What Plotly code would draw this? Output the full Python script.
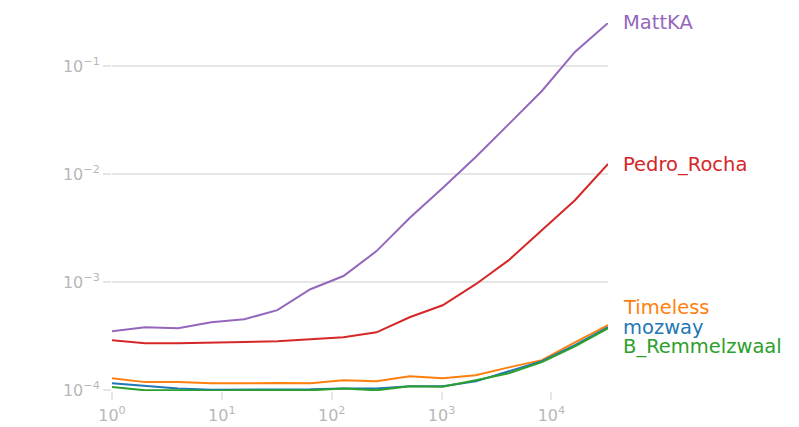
import plotly.graph_objects as go
import numpy as np

n = [2 ** k for k in range(16)]

names = ["MattKA", "Pedro_Rocha", "Timeless", "mozway", "B_Remmelzwaal"]
colors = ["#9467bd", "#d62728", "#ff7f0e", "#1f77b4", "#2ca02c"]

MattKA = [3.52e-4, 3.83e-4, 3.75e-4, 4.26e-4, 4.54e-4, 5.51e-4, 8.61e-4, 1.14e-3,
          1.94e-3, 3.92e-3, 7.42e-3, 1.44e-2, 2.90e-2, 5.87e-2, 0.135, 0.25]
Pedro_Rocha = [2.90e-4, 2.72e-4, 2.72e-4, 2.78e-4, 2.80e-4, 2.84e-4, 2.97e-4, 3.10e-4,
               3.44e-4, 4.74e-4, 6.12e-4, 9.58e-4, 1.60e-3, 3.03e-3, 5.74e-3, 1.24e-2]
Timeless = [1.29e-4, 1.19e-4, 1.19e-4, 1.16e-4, 1.16e-4, 1.17e-4, 1.16e-4, 1.24e-4,
            1.21e-4, 1.35e-4, 1.29e-4, 1.38e-4, 1.63e-4, 1.90e-4, 2.78e-4, 4.00e-4]
mozway = [1.16e-4, 1.09e-4, 1.04e-4, 1.01e-4, 1.01e-4, 1.02e-4, 1.02e-4, 1.04e-4,
          1.04e-4, 1.09e-4, 1.09e-4, 1.21e-4, 1.50e-4, 1.86e-4, 2.61e-4, 3.83e-4]
B_Remmelzwaal = [1.07e-4, 1.00e-4, 1.00e-4, 0.99e-4, 1.00e-4, 1.00e-4, 1.00e-4, 1.04e-4,
                 1.00e-4, 1.09e-4, 1.08e-4, 1.24e-4, 1.44e-4, 1.82e-4, 2.55e-4, 3.75e-4]

x_tickvals = [1, 10, 100, 1000, 10000]
x_ticktext = ["10<sup>0</sup>", "10<sup>1</sup>", "10<sup>2</sup>", "10<sup>3</sup>", "10<sup>4</sup>"]
y_tickvals = [1e-4, 1e-3, 1e-2, 1e-1]
y_ticktext = ["10<sup>\u22124</sup>", "10<sup>\u22123</sup>", "10<sup>\u22122</sup>", "10<sup>\u22121</sup>"]

series = [MattKA, Pedro_Rocha, Timeless, mozway, B_Remmelzwaal]
label_shift = [1, 0, 18, 0, -18]

fig = go.Figure()
for name, col, ys in zip(names, colors, series):
    fig.add_trace(go.Scatter(x=n, y=ys, mode="lines", name=name,
                             line=dict(color=col, width=2)))

for name, col, ys, sh in zip(names, colors, series, label_shift):
    fig.add_annotation(x=np.log10(n[-1]), y=np.log10(ys[-1]), text=name,
                       showarrow=False, xanchor="left", yanchor="middle",
                       xshift=13, yshift=sh,
                       font=dict(family="DejaVu Sans", size=19.5, color=col))

tick_color = "#b8b8b8"
grid_color = "#e6e6e6"

fig.update_layout(
    width=791, height=419,
    margin=dict(l=104, r=191, t=15, b=36),
    paper_bgcolor="white", plot_bgcolor="white",
    showlegend=False,
    font=dict(family="DejaVu Sans", size=16, color=tick_color),
)
fig.update_xaxes(type="log", range=[0, np.log10(n[-1])],
                 tickvals=x_tickvals, ticktext=x_ticktext, automargin=False,
                 showgrid=False, zeroline=False, ticklabelstandoff=2,
                 showline=False, ticks="outside", ticklen=8, tickcolor=grid_color,
                 tickwidth=1.5, tickfont=dict(size=16, color=tick_color))
fig.update_yaxes(type="log", range=[np.log10(0.0000985), np.log10(0.25)],
                 tickvals=y_tickvals, ticktext=y_ticktext, automargin=False,
                 showgrid=True, gridcolor=grid_color,
                 gridwidth=1.5, zeroline=False, showline=False,
                 ticks="outside", ticklen=8, tickcolor=grid_color, tickwidth=1.5,
                 tickfont=dict(size=16, color=tick_color))

fig.write_html("out.html")
